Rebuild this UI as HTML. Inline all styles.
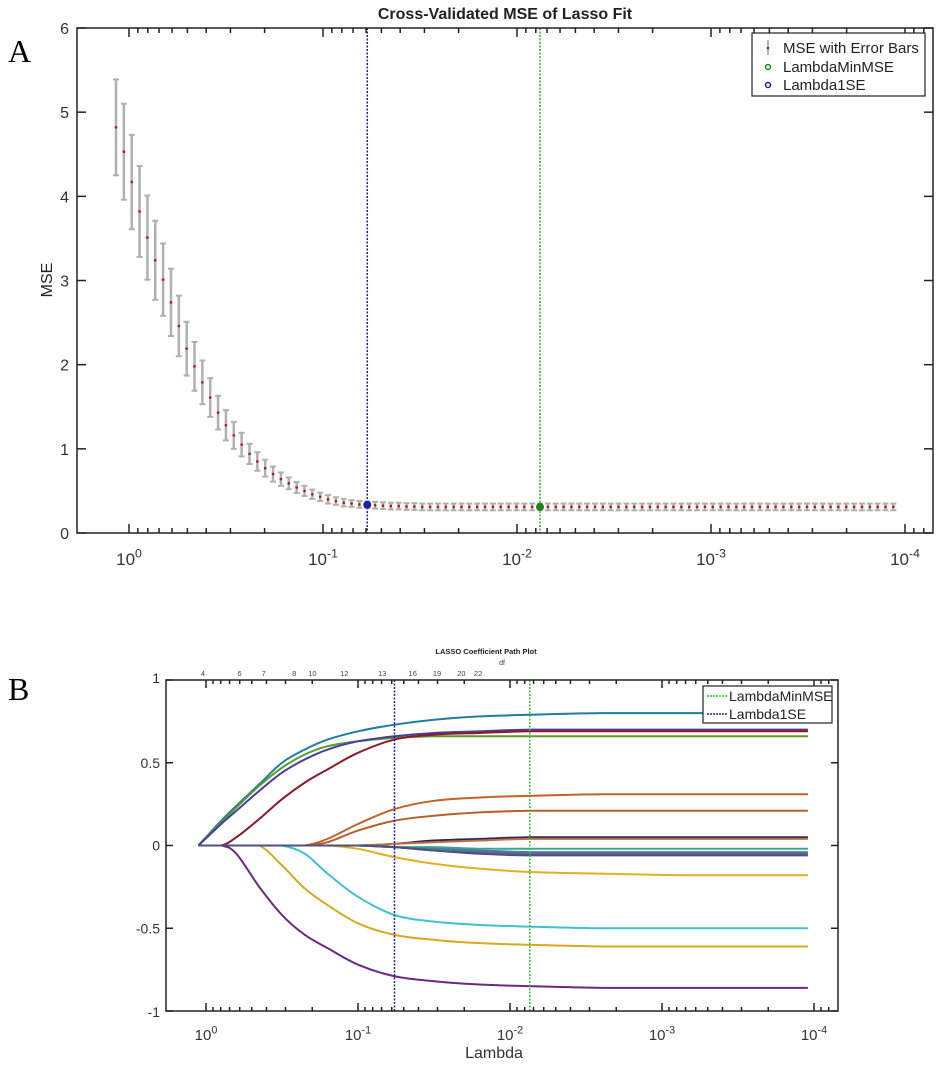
<!DOCTYPE html>
<html><head><meta charset="utf-8"><style>
html,body{margin:0;padding:0;background:#fff;}
svg{display:block;font-family:"Liberation Sans",sans-serif;}
</style></head><body>
<svg id="s" width="942" height="1067" viewBox="0 0 942 1067" xmlns="http://www.w3.org/2000/svg">
<text x="8" y="62" font-family="Liberation Serif,serif" font-size="32">A</text>
<text x="8" y="700" font-family="Liberation Serif,serif" font-size="32">B</text>
<g id="A"></g>
<g id="B"></g>
</svg>
<script>
// Panel A data
const mseVals=[4.82,4.53,4.17,3.82,3.51,3.24,3.01,2.74,2.46,2.19,1.98,1.79,1.61,1.43,1.28,1.16,1.05,0.94,0.85,0.77,0.70,0.64,0.59,0.54,0.50,0.46,0.43,0.40,0.38,0.36,0.35,0.34,0.335,0.33,0.325,0.32,0.32,0.315,0.315,0.31,0.31,0.31,0.31,0.31,0.31,0.31,0.31,0.31,0.31,0.31,0.31,0.31,0.31,0.31,0.31,0.31,0.31,0.31,0.31,0.31,0.31,0.31,0.31,0.31,0.31,0.31,0.31,0.31,0.31,0.31,0.31,0.31,0.31,0.31,0.31,0.31,0.31,0.31,0.31,0.31,0.31,0.31,0.31,0.31,0.31,0.31,0.31,0.31,0.31,0.31,0.31,0.31,0.31,0.31,0.31,0.31,0.31,0.31,0.31,0.31];
const mseErr=[0.57,0.57,0.56,0.54,0.5,0.47,0.43,0.4,0.36,0.32,0.29,0.26,0.23,0.2,0.18,0.16,0.14,0.12,0.11,0.1,0.09,0.08,0.07,0.065,0.06,0.055,0.05,0.05,0.045,0.045,0.04,0.04,0.04,0.04,0.04,0.04,0.04,0.04,0.04,0.04];
const lamLogStart=0.067, lamLogEnd=-3.94;
const idxMin=54, idx1SE=32;
const aYTicks=[0,1,2,3,4,5,6];
const xDecades=[0,-1,-2,-3,-4];
// Panel B data
const gridLog=[0.05,-0.1,-0.2,-0.35,-0.5,-0.65,-0.8,-1.0,-1.24,-1.5,-1.8,-2.13,-2.6,-3.2,-3.96];
const pathColors=['#1f7f9a','#5a9a2a','#4b3d9a','#8b1a2a','#c0622a','#b5602a','#e0b020','#40c0d0','#d8a820','#6a2a80','#2a2a5a','#c07040','#40a0a0','#3a8a8a','#6a5aa0','#505080'];
const pathVals=[
[0,0.15,0.24,0.37,0.50,0.58,0.64,0.69,0.73,0.76,0.78,0.79,0.80,0.80,0.80],
[0,0.14,0.23,0.36,0.47,0.55,0.60,0.63,0.65,0.66,0.66,0.66,0.66,0.66,0.66],
[0,0.13,0.21,0.33,0.44,0.52,0.58,0.63,0.66,0.68,0.69,0.70,0.70,0.70,0.70],
[0,0,0.05,0.16,0.28,0.38,0.46,0.56,0.64,0.67,0.68,0.69,0.69,0.69,0.69],
[0,0,0,0,0,0,0.04,0.13,0.22,0.27,0.29,0.30,0.31,0.31,0.31],
[0,0,0,0,0,0,0.02,0.09,0.15,0.18,0.20,0.21,0.21,0.21,0.21],
[0,0,0,0,0,0,0,-0.02,-0.07,-0.11,-0.14,-0.16,-0.17,-0.18,-0.18],
[0,0,0,0,0,-0.05,-0.17,-0.31,-0.42,-0.46,-0.48,-0.49,-0.50,-0.50,-0.50],
[0,0,0,0,-0.12,-0.26,-0.36,-0.47,-0.54,-0.57,-0.59,-0.60,-0.61,-0.61,-0.61],
[0,0,-0.05,-0.25,-0.42,-0.54,-0.62,-0.72,-0.79,-0.82,-0.84,-0.85,-0.86,-0.86,-0.86],
[0,0,0,0,0,0,0,0,0.01,0.03,0.04,0.05,0.05,0.05,0.05],
[0,0,0,0,0,0,0,0,0.01,0.02,0.03,0.04,0.04,0.04,0.04],
[0,0,0,0,0,0,0,0,-0.01,-0.01,-0.02,-0.02,-0.02,-0.02,-0.02],
[0,0,0,0,0,0,0,0,-0.01,-0.02,-0.03,-0.04,-0.04,-0.04,-0.04],
[0,0,0,0,0,0,0,0,-0.01,-0.03,-0.04,-0.05,-0.05,-0.05,-0.05],
[0,0,0,0,0,0,0,0,-0.01,-0.03,-0.05,-0.06,-0.06,-0.06,-0.06]];
const bYTicks=[1,0.5,0,-0.5,-1];
const bYLabels=['1','0.5','0','-0.5','-1'];
const dfLabels=['4','6','7','8','10','12','13','16','19','20','22'];
const dfLogs=[0.02,-0.22,-0.38,-0.58,-0.7,-0.91,-1.16,-1.36,-1.52,-1.68,-1.79];
const bLogMin=-1.24, bLogMinMSE=-2.13;

const NS='http://www.w3.org/2000/svg';
function mk(p,t,a){const e=document.createElementNS(NS,t);for(const k in a)e.setAttribute(k,a[k]);p.appendChild(e);return e;}
function sup(g,x,y,exp,fs){const t=mk(g,'text',{x:x,y:y,'font-size':fs,'text-anchor':'middle',fill:'#333'});
 const a=document.createElementNS(NS,'tspan');a.textContent='10';t.appendChild(a);
 const b=document.createElementNS(NS,'tspan');b.setAttribute('dy',-fs*0.45);b.setAttribute('font-size',fs*0.72);b.textContent=exp;t.appendChild(b);return t;}
function logTicks(g,X,x0,x1,yb,yt,big,small,decs){
 for(let d=1;d>=-5;d--){for(let m=1;m<=9;m++){const lv=d+Math.log10(m)-1;const x=X(lv);if(x<x0+1||x>x1-1)continue;
  const L=m===1?big:small;
  mk(g,'line',{x1:x,x2:x,y1:yb,y2:yb-L,stroke:'#222','stroke-width':1.5});
  mk(g,'line',{x1:x,x2:x,y1:yt,y2:yt+L,stroke:'#222','stroke-width':1.5});}}
}
// ---- Panel A
(function(){
const g=document.getElementById('A');
const L=77,R=933,T=28,Bt=533;
const X=lv=>129+(-lv)*194;
const Y=v=>Bt-v*(Bt-T)/6;
mk(g,'text',{x:505,y:19,'font-size':16,'font-weight':'bold','text-anchor':'middle',fill:'#222'}).textContent='Cross-Validated MSE of Lasso Fit';
const t=mk(g,'text',{x:52,y:280,'font-size':16,'text-anchor':'middle',transform:'rotate(-90 52 280)',fill:'#222'});t.textContent='MSE';

aYTicks.forEach(v=>{const y=Y(v);mk(g,'line',{x1:L,x2:L+9,y1:y,y2:y,stroke:'#222','stroke-width':1.5});mk(g,'line',{x1:R,x2:R-9,y1:y,y2:y,stroke:'#222','stroke-width':1.5});
 const tl=mk(g,'text',{x:L-8,y:y+6,'font-size':16,'text-anchor':'end',fill:'#333'});tl.textContent=v;
 });
logTicks(g,X,L,R,Bt,T,9,5);
xDecades.forEach(d=>{const s=sup(g,X(d),565,d,17);});
const n=mseVals.length;
const xi=i=>X(lamLogStart+(lamLogEnd-lamLogStart)*i/(n-1));
mk(g,'line',{x1:xi(idx1SE),x2:xi(idx1SE),y1:T,y2:Bt,stroke:'#2020a0','stroke-width':1.5,'stroke-dasharray':'2,1.5'});
mk(g,'line',{x1:xi(idxMin),x2:xi(idxMin),y1:T,y2:Bt,stroke:'#30b030','stroke-width':1.5,'stroke-dasharray':'2,1.5'});
mseVals.forEach((v,i)=>{const x=xi(i);const e=i<mseErr.length?mseErr[i]:0.04;
 const eb=mk(g,'g',{});
 mk(eb,'line',{x1:x,x2:x,y1:Y(v+e),y2:Y(v-e),stroke:'#b0b0b0','stroke-width':2.5});
 mk(eb,'line',{x1:x-3,x2:x+3,y1:Y(v+e),y2:Y(v+e),stroke:'#b0b0b0','stroke-width':2});
 mk(eb,'line',{x1:x-3,x2:x+3,y1:Y(v-e),y2:Y(v-e),stroke:'#b0b0b0','stroke-width':2});
 const p=mk(eb,'circle',{cx:x,cy:Y(v),r:1.3,fill:'#c01010'});});
const b1=mk(g,'circle',{cx:xi(idx1SE),cy:Y(mseVals[idx1SE]),r:4,fill:'#2020a0'});
const b2=mk(g,'circle',{cx:xi(idxMin),cy:Y(mseVals[idxMin]),r:4,fill:'#208020'});
mk(g,'rect',{x:L,y:T,width:R-L,height:Bt-T,fill:'none',stroke:'#222','stroke-width':1.5});
const lg=mk(g,'g',{});
mk(lg,'rect',{x:752,y:33,width:173,height:63,fill:'#fff',stroke:'#222','stroke-width':1.2});
mk(lg,'line',{x1:768,x2:768,y1:40,y2:55,stroke:'#999','stroke-width':1.5});mk(lg,'circle',{cx:768,cy:48,r:1.3,fill:'#c01010'});
mk(lg,'circle',{cx:768,cy:67,r:2.5,fill:'none',stroke:'#208020','stroke-width':1.5});
mk(lg,'circle',{cx:768,cy:85,r:2.5,fill:'none',stroke:'#2020a0','stroke-width':1.5});
[['MSE with Error Bars',53],['LambdaMinMSE',72],['Lambda1SE',90]].forEach(a=>{const tt=mk(lg,'text',{x:783,y:a[1],'font-size':15,fill:'#222'});tt.textContent=a[0];});
})();
// ---- Panel B
(function(){
const g=document.getElementById('B');
const L=166,R=838,T=680,Bt=1011;
const X=lv=>206+(-lv)*152;
const Y=v=>T+(1-v)*(Bt-T)/2;
mk(g,'text',{x:486,y:654,'font-size':7.5,'font-weight':'bold','text-anchor':'middle',fill:'#222'}).textContent='LASSO Coefficient Path Plot';
mk(g,'text',{x:502,y:665,'font-size':7,'text-anchor':'middle',fill:'#444'}).textContent='df';
dfLabels.forEach((s,i)=>{const tt=mk(g,'text',{x:X(dfLogs[i]),y:676,'font-size':7.5,'text-anchor':'middle',fill:'#444'});tt.textContent=s;
 });
bYTicks.forEach((v,i)=>{const y=Y(v);mk(g,'line',{x1:L,x2:L+7,y1:y,y2:y,stroke:'#222','stroke-width':1.5});mk(g,'line',{x1:R,x2:R-7,y1:y,y2:y,stroke:'#222','stroke-width':1.5});
 const tl=mk(g,'text',{x:L-6,y:y+(i==0?3:i==4?6:5),'font-size':14,'text-anchor':'end',fill:'#333'});tl.textContent=bYLabels[i];
 });
logTicks(g,X,L,R,Bt,T,8,4);
[0,-1,-2,-3,-4].forEach(d=>{const s=sup(g,X(d),1040,d,15);});
const xl=mk(g,'text',{x:494,y:1058,'font-size':16,'text-anchor':'middle',fill:'#333'});xl.textContent='Lambda';

pathVals.forEach((vals,k)=>{
 const pts=vals.map((v,i)=>[X(gridLog[i]),Y(v)]);
 let d='M'+pts[0][0]+','+pts[0][1];
 for(let i=0;i<pts.length-1;i++){const p0=pts[Math.max(0,i-1)],p1=pts[i],p2=pts[i+1],p3=pts[Math.min(pts.length-1,i+2)];
  const c1y=(p1[1]===p2[1])?p1[1]:p1[1]+(p2[1]-p0[1])/6, c2y=(p1[1]===p2[1])?p2[1]:p2[1]-(p3[1]-p1[1])/6;
  d+=' C'+(p1[0]+(p2[0]-p0[0])/6)+','+c1y+' '+(p2[0]-(p3[0]-p1[0])/6)+','+c2y+' '+p2[0]+','+p2[1];}
 const p=mk(g,'path',{d:d,fill:'none',stroke:pathColors[k],'stroke-width':2});
 
});
const l1=mk(g,'line',{x1:X(bLogMin),x2:X(bLogMin),y1:T,y2:Bt,stroke:'#2020a0','stroke-width':1.5,'stroke-dasharray':'2,1.5'});

const l2=mk(g,'line',{x1:X(bLogMinMSE),x2:X(bLogMinMSE),y1:T,y2:Bt,stroke:'#30c030','stroke-width':1.5,'stroke-dasharray':'2,1.5'});

mk(g,'rect',{x:L,y:T,width:R-L,height:Bt-T,fill:'none',stroke:'#222','stroke-width':1.5});
const lg=mk(g,'g',{});
mk(lg,'rect',{x:703,y:686,width:129,height:37,fill:'#fff',stroke:'#222','stroke-width':1.2});
mk(lg,'line',{x1:707,x2:727,y1:696,y2:696,stroke:'#30c030','stroke-width':1.5,'stroke-dasharray':'2,1'});
mk(lg,'line',{x1:707,x2:727,y1:714,y2:714,stroke:'#2020a0','stroke-width':1.5,'stroke-dasharray':'2,1'});
[['LambdaMinMSE',701],['Lambda1SE',719]].forEach(a=>{const tt=mk(lg,'text',{x:729,y:a[1],'font-size':14,fill:'#222'});tt.textContent=a[0];});
})();
</script>
</body></html>
